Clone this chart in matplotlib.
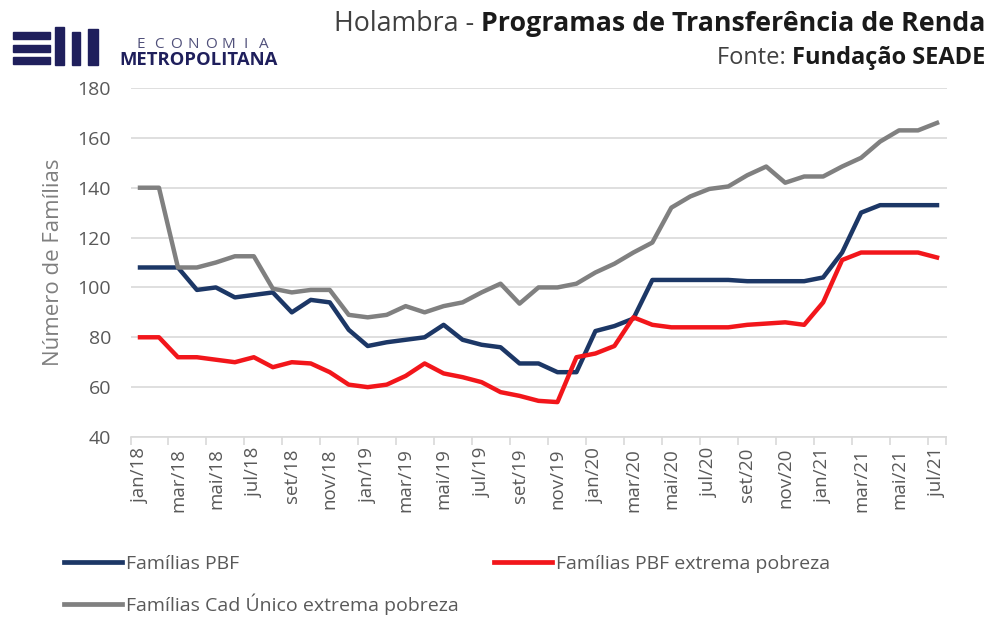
import matplotlib
matplotlib.use("Agg")
import matplotlib.pyplot as plt
from matplotlib import font_manager
from matplotlib.patches import Rectangle
from matplotlib.lines import Line2D

# monthly series, jan/18 .. jul/21 ("Número de Famílias")
meses = ["jan", "fev", "mar", "abr", "mai", "jun", "jul", "ago", "set", "out", "nov", "dez"]
anos = ["18", "19", "20", "21"]
categorias = [m + "/" + a for a in anos for m in meses][:43]

familias_pbf = [108, 108, 108, 99, 100, 96, 97, 98, 90, 95, 94, 83,
                76.5, 78, 79, 80, 85, 79, 77, 76, 69.5, 69.5, 66, 66,
                82.5, 84.5, 87.5, 103, 103, 103, 103, 103, 102.5, 102.5, 102.5, 102.5,
                104, 114, 130, 133, 133, 133, 133]
pbf_extrema = [80, 80, 72, 72, 71, 70, 72, 68, 70, 69.5, 66, 61,
               60, 61, 64.5, 69.5, 65.5, 64, 62, 58, 56.5, 54.5, 54, 72,
               73.5, 76.5, 88, 85, 84, 84, 84, 84, 85, 85.5, 86, 85,
               94, 111, 114, 114, 114, 114, 112]
cad_extrema = [140, 140, 108, 108, 110, 112.5, 112.5, 99.5, 98, 99, 99, 89,
               88, 89, 92.5, 90, 92.5, 94, 98, 101.5, 93.5, 100, 100, 101.5,
               106, 109.5, 114, 118, 132, 136.5, 139.5, 140.5, 145, 148.5, 142, 144.5,
               144.5, 148.5, 152, 158.5, 163, 163, 166]

nomes = ["Famílias PBF", "Famílias PBF extrema pobreza", "Famílias Cad Único extrema pobreza"]
cores = ["#1c3766", "#f2161b", "#808080"]

disponiveis = {f.name for f in font_manager.fontManager.ttflist}
fonte_base = "Open Sans" if "Open Sans" in disponiveis else "DejaVu Sans"
plt.rcParams["font.family"] = [fonte_base, "DejaVu Sans"]

fig = plt.figure(figsize=(9.95, 6.24), dpi=100)
W, H = fig.bbox.width, fig.bbox.height
ax = fig.add_axes([130.5 / W, 1 - 437 / H, 816 / W, 349 / H])

x = list(range(len(categorias)))
for serie, nome, cor in zip([familias_pbf, pbf_extrema, cad_extrema], nomes, cores):
    ax.plot(x, serie, color=cor, lw=3.2, label=nome, solid_joinstyle="round")

ax.set_ylim(40, 180)
ax.set_yticks(range(40, 181, 20))
ax.set_xlim(-0.5, 42.5)
# tick marks on category boundaries, labels on the categories (every 2 months)
ax.set_xticks([i - 0.5 for i in x[::2]] + [42.5])
ax.set_xticklabels([])
ax.set_xticks(x[::2], minor=True)
ax.set_xticklabels(categorias[::2], minor=True, rotation=90, fontsize=13.5, color="#595959")
ax.tick_params(axis="x", which="major", length=6, color="#d9d9d9", width=1.2)
ax.tick_params(axis="x", which="minor", length=0, pad=8)
ax.tick_params(axis="y", length=0, labelsize=14, labelcolor="#595959", pad=14)
ax.grid(axis="y", color="#d9d9d9", lw=1.2)
ax.set_axisbelow(True)
for lado in ["top", "right", "left"]:
    ax.spines[lado].set_visible(False)
ax.spines["bottom"].set_color("#d9d9d9")
ax.spines["bottom"].set_linewidth(1.2)
ax.set_ylabel("Número de Famílias", fontsize=16, color="#7f7f7f", labelpad=10)

# legend: two blocks so the red entry sits in its own column
h = [Line2D([], [], color=c, lw=3.4) for c in cores]
leg_kw = dict(frameon=False, handlelength=3.0, handletextpad=0.2, labelspacing=1.05,
              prop={"size": 14}, labelcolor="#595959", borderaxespad=0, borderpad=0)
fig.legend([h[0], h[2]], [nomes[0], nomes[2]], loc="upper left",
           bbox_to_anchor=(64 / W, 1 - 555 / H), **leg_kw)
fig.legend([h[1]], [nomes[1]], loc="upper left",
           bbox_to_anchor=(494 / W, 1 - 555 / H), **leg_kw)

# header text, mixed weights, right aligned
fig.canvas.draw()
r = fig.canvas.get_renderer()
def linha(y, normal, negrito, tam):
    t = fig.text(0.99, y, negrito, ha="right", va="center", fontsize=tam,
                 fontweight="bold", color="#1a1a1a")
    bb = t.get_window_extent(r)
    fig.text(bb.x0 / W, y, normal, ha="right", va="center", fontsize=tam, color="#404040")

linha(1 - 24 / H, "Holambra - ", "Programas de Transferência de Renda", 19.3)
linha(1 - 58 / H, "Fonte: ", "Fundação SEADE", 17)

# logo
navy = "#1f1f5c"
def ret(x0, y0, w, hh, c=navy):
    fig.add_artist(Rectangle((x0 / W, 1 - (y0 + hh) / H), w / W, hh / H,
                             color=c, transform=fig.transFigure))
for yy in (32, 45, 57):
    ret(13, yy, 37, 7)
ret(55, 27, 9, 38)
ret(72, 32, 8, 33)
ret(88, 29, 10, 36)
for i, letra in enumerate("ECONOMIA"):
    fig.text((141 + i * 17.5) / W, 1 - 44 / H, letra, fontsize=11, color="#50507a",
             va="center", ha="center")
fig.text(119 / W, 1 - 60 / H, "METROPOLITANA", fontsize=13.3, fontweight="bold",
         color=navy, va="center", ha="left")

fig.savefig("out.png", dpi=100)
